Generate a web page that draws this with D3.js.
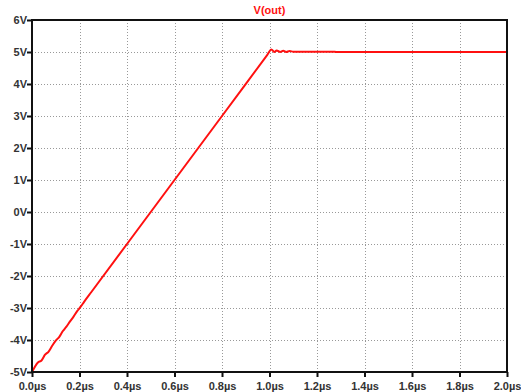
<!DOCTYPE html>
<html>
<head>
<meta charset="utf-8">
<script src="https://cdn.jsdelivr.net/npm/d3@7"></script>
<style>
body { margin: 0; background: #fff; }
text { font-family: "Liberation Sans", Arial, sans-serif; }
</style>
</head>
<body>
<svg width="521" height="392"></svg>
<script>
var title = "V(out)";
var time_us = [0, 0.025, 0.04, 0.055, 0.07, 0.085, 0.1, 0.115, 0.13, 0.145, 0.16, 0.175, 0.19, 0.205, 0.22, 0.25,
	0.4, 0.6, 0.8, 0.99, 1.008, 1.02, 1.03, 1.045, 1.058, 1.07, 1.085, 1.1, 1.27, 1.28, 2.0];
var volts = [-5, -4.7, -4.64, -4.46, -4.36, -4.18, -4.02, -3.9, -3.72, -3.58, -3.42, -3.27, -3.1, -2.96, -2.8, -2.5,
	-1.0, 1.0, 3.0, 4.9, 5.08, 5.0, 5.05, 5.0, 5.04, 5.0, 5.03, 5.01, 5.01, 5.0, 5.0];
var x_ticks = [0, 0.2, 0.4, 0.6, 0.8, 1.0, 1.2, 1.4, 1.6, 1.8, 2.0];
var y_ticks = [-5, -4, -3, -2, -1, 0, 1, 2, 3, 4, 5, 6];

var svg = d3.select("svg");
var plotLeft = 32, plotRight = 507, plotTop = 20, plotBottom = 372;

var x = d3.scaleLinear().domain([0, 2]).range([plotLeft, plotRight]);
var y = d3.scaleLinear().domain([-5, 6]).range([plotBottom, plotTop]);

var grid = svg.append("g")
	.attr("stroke", "#999")
	.attr("stroke-width", 1)
	.attr("stroke-dasharray", "1,2");

grid.selectAll("line.v")
	.data(x_ticks.slice(1, -1))
	.enter().append("line")
	.attr("x1", d => Math.round(x(d)) + 0.5)
	.attr("x2", d => Math.round(x(d)) + 0.5)
	.attr("y1", plotTop)
	.attr("y2", plotBottom);

grid.selectAll("line.h")
	.data(y_ticks.slice(1, -1))
	.enter().append("line")
	.attr("y1", d => Math.round(y(d)) + 0.5)
	.attr("y2", d => Math.round(y(d)) + 0.5)
	.attr("x1", plotLeft)
	.attr("x2", plotRight);

var line = d3.line()
	.x((d, i) => x(time_us[i]))
	.y(d => y(d))
	.curve(d3.curveMonotoneX);

svg.append("path")
	.datum(volts)
	.attr("fill", "none")
	.attr("stroke", "#ff1010")
	.attr("stroke-width", 2)
	.attr("stroke-linejoin", "round")
	.attr("d", line);

// frame
svg.append("rect")
	.attr("x", plotLeft)
	.attr("y", plotTop)
	.attr("width", plotRight - plotLeft)
	.attr("height", plotBottom - plotTop)
	.attr("fill", "none")
	.attr("stroke", "#111")
	.attr("stroke-width", 2);

var xAxis = d3.axisBottom(x)
	.tickValues(x_ticks)
	.tickSize(5)
	.tickFormat(d => d3.format(".1f")(d) + "µs");

var gx = svg.append("g")
	.attr("transform", "translate(0," + plotBottom + ")")
	.call(xAxis);
gx.select(".domain").remove();
gx.selectAll("line").attr("stroke", "#111").attr("stroke-width", 2);
gx.selectAll("text")
	.attr("fill", "#333")
	.attr("font-size", 11)
	.attr("font-weight", "bold")
	.attr("dy", "0.9em");

var yAxis = d3.axisLeft(y)
	.tickValues(y_ticks)
	.tickSize(5)
	.tickFormat(d => d + "V");

var gy = svg.append("g")
	.attr("transform", "translate(" + plotLeft + ",0)")
	.call(yAxis);
gy.select(".domain").remove();
gy.selectAll("line").attr("stroke", "#111").attr("stroke-width", 2);
gy.selectAll("text")
	.attr("fill", "#333")
	.attr("font-size", 11)
	.attr("font-weight", "bold")
	.attr("x", -5);

svg.append("text")
	.attr("x", (plotLeft + plotRight) / 2)
	.attr("y", 14)
	.attr("text-anchor", "middle")
	.attr("fill", "#ff1010")
	.attr("font-size", 11)
	.attr("font-weight", "bold")
	.text(title);
</script>
</body>
</html>
